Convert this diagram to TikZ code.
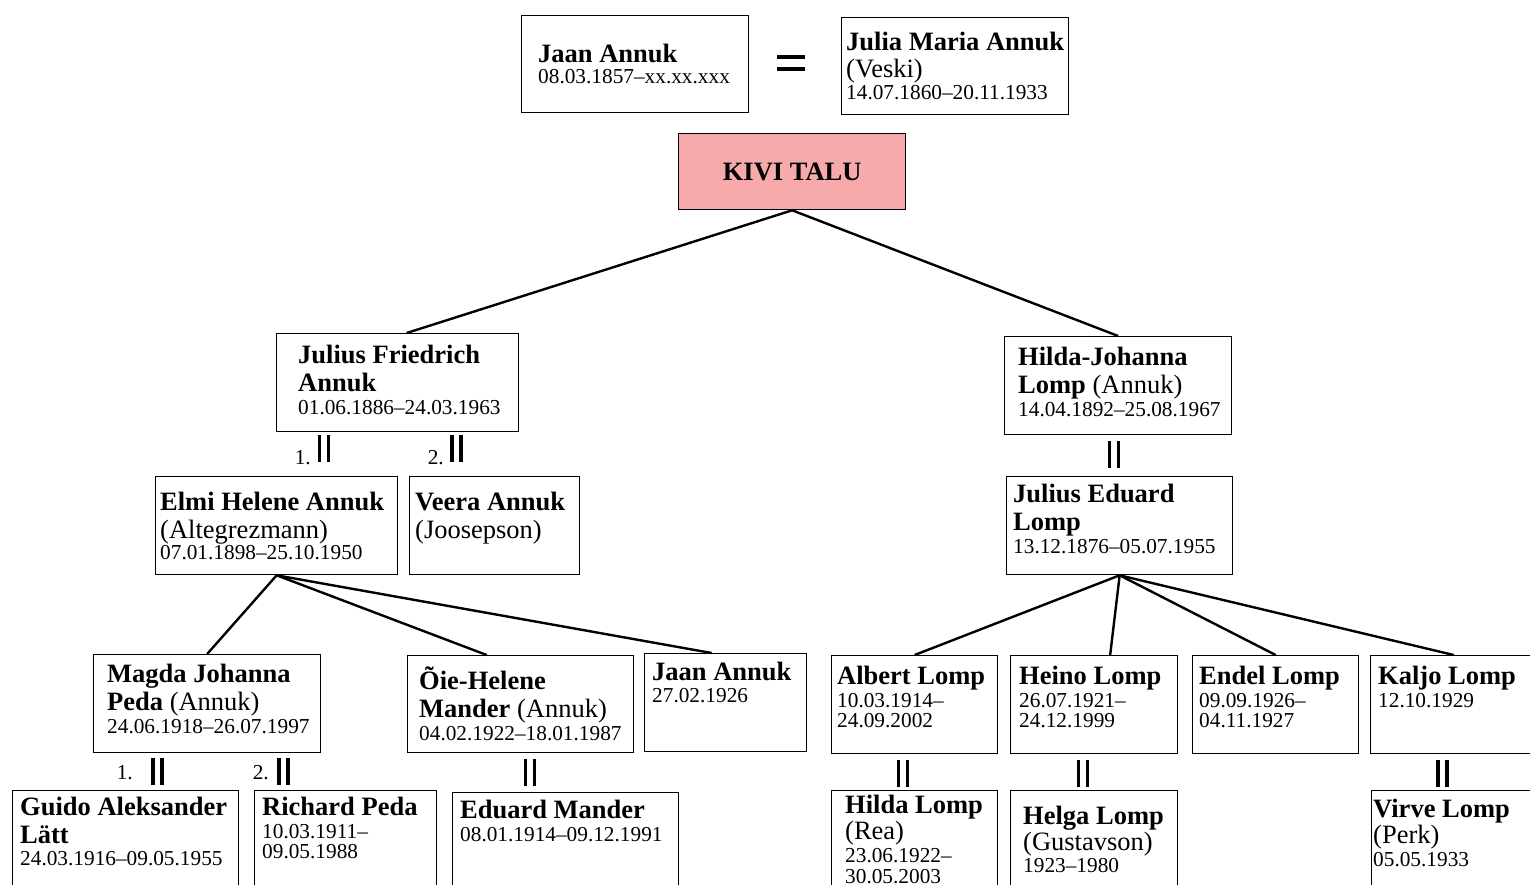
\documentclass[tikz,border=0pt]{standalone}
\usepackage{fontspec}
\setmainfont{Liberation Serif}
\usepackage{tikz}
\usetikzlibrary{positioning}
\definecolor{kivi}{RGB}{246,170,172}
\newcommand{\dt}{\fontsize{21.3pt}{21pt}\selectfont}
\newcommand{\dbar}{\rule{3.5pt}{27pt}\hspace{5.5pt}\rule{3.5pt}{27pt}}
\tikzset{
  box/.style={draw, line width=1.3pt, anchor=north west, inner sep=0pt},
  who/.style={anchor=base west, inner sep=0pt, align=left, font=\fontsize{26.5pt}{28pt}\selectfont},
  kin/.style={line width=2.4pt},
  marr/.style={inner sep=0pt},
  num/.style={inner sep=0pt, anchor=base east, font=\dt}
}
\begin{document}
\begin{tikzpicture}[x=1pt,y=1pt]
        \useasboundingbox (0,0) rectangle (1530,-884);
        \clip (0,0) rectangle (1530,-884);
        \node [box, minimum width=227pt, minimum height=97pt] (jaan) at (521,-15) {};
        \node [who] (jaanT) at (538,-83) {\textbf{Jaan Annuk}\\[-7pt]{\dt 08.03.1857--xx.xx.xxx}};
        \node [marr] (eq) at (791,-63) {\vbox{\hrule width 28pt height 4.5pt\vskip 7.5pt\hrule width 28pt height 4.5pt}};
        \node [box, minimum width=227pt, minimum height=97pt] (julia) at (841,-17) {};
        \node [who] (juliaT) at (846,-99) {\textbf{Julia Maria Annuk}\\[-1pt](Veski)\\[-6pt]{\dt 14.07.1860--20.11.1933}};
        \node [box, fill=kivi, minimum width=227pt, minimum height=76pt, font=\fontsize{26.5pt}{28pt}\selectfont] (kivi) at (678,-133) {\textbf{KIVI TALU}};
        \node [box, minimum width=242pt, minimum height=98pt] (juliusf) at (276,-333) {};
        \node [who] (juliusfT) at (298,-414) {\textbf{Julius Friedrich}\\\textbf{Annuk}\\[-5pt]{\dt 01.06.1886--24.03.1963}};
        \node [box, minimum width=227pt, minimum height=98pt] (hildaj) at (1004,-336) {};
        \node [who] (hildajT) at (1018,-416) {\textbf{Hilda-Johanna}\\\textbf{Lomp} (Annuk)\\[-5pt]{\dt 14.04.1892--25.08.1967}};
        \node [box, minimum width=242pt, minimum height=98pt] (elmi) at (155,-476) {};
        \node [who] (elmiT) at (160,-559) {\textbf{Elmi Helene Annuk}\\(Altegrezmann)\\[-7pt]{\dt 07.01.1898--25.10.1950}};
        \node [box, minimum width=170pt, minimum height=98pt] (veera) at (409,-476) {};
        \node [who] (veeraT) at (415,-538) {\textbf{Veera Annuk}\\(Joosepson)};
        \node [box, minimum width=226pt, minimum height=98pt] (juliuse) at (1006,-476) {};
        \node [who] (juliuseT) at (1013,-553) {\textbf{Julius Eduard}\\\textbf{Lomp}\\[-5pt]{\dt 13.12.1876--05.07.1955}};
        \node [box, minimum width=227pt, minimum height=98pt] (magda) at (93,-654) {};
        \node [who] (magdaT) at (107,-733) {\textbf{Magda Johanna}\\\textbf{Peda} (Annuk)\\[-5pt]{\dt 24.06.1918--26.07.1997}};
        \node [box, minimum width=226pt, minimum height=97pt] (oie) at (407,-655) {};
        \node [who] (oieT) at (419,-740) {\textbf{Õie-Helene}\\\textbf{Mander} (Annuk)\\[-5pt]{\dt 04.02.1922--18.01.1987}};
        \node [box, minimum width=162pt, minimum height=98pt] (jaanb) at (644,-653) {};
        \node [who] (jaanbT) at (652,-702) {\textbf{Jaan Annuk}\\[-6pt]{\dt 27.02.1926}};
        \node [box, minimum width=166pt, minimum height=98pt] (albert) at (831,-655) {};
        \node [who] (albertT) at (837,-727) {\textbf{Albert Lomp}\\[-5pt]{\dt 10.03.1914--}\\[-8pt]{\dt 24.09.2002}};
        \node [box, minimum width=167pt, minimum height=98pt] (heino) at (1010,-655) {};
        \node [who] (heinoT) at (1019,-727) {\textbf{Heino Lomp}\\[-5pt]{\dt 26.07.1921--}\\[-8pt]{\dt 24.12.1999}};
        \node [box, minimum width=166pt, minimum height=98pt] (endel) at (1192,-655) {};
        \node [who] (endelT) at (1199,-727) {\textbf{Endel Lomp}\\[-5pt]{\dt 09.09.1926--}\\[-8pt]{\dt 04.11.1927}};
        \node [box, minimum width=166pt, minimum height=98pt] (kaljo) at (1370,-655) {};
        \node [who] (kaljoT) at (1378,-707) {\textbf{Kaljo Lomp}\\[-5pt]{\dt 12.10.1929}};
        \node [box, minimum width=226pt, minimum height=120pt] (guido) at (12,-790) {};
        \node [who] (guidoT) at (20,-865) {\textbf{Guido Aleksander}\\\textbf{Lätt}\\[-6pt]{\dt 24.03.1916--09.05.1955}};
        \node [box, minimum width=182pt, minimum height=120pt] (richard) at (254,-790) {};
        \node [who] (richardT) at (262,-858) {\textbf{Richard Peda}\\[-5pt]{\dt 10.03.1911--}\\[-8pt]{\dt 09.05.1988}};
        \node [box, minimum width=226pt, minimum height=120pt] (eduard) at (452,-792) {};
        \node [who] (eduardT) at (460,-841) {\textbf{Eduard Mander}\\[-5pt]{\dt 08.01.1914--09.12.1991}};
        \node [box, minimum width=166pt, minimum height=120pt] (hildal) at (831,-790) {};
        \node [who] (hildalT) at (845,-883) {\textbf{Hilda Lomp}\\[-2pt](Rea)\\[-5pt]{\dt 23.06.1922--}\\[-7pt]{\dt 30.05.2003}};
        \node [box, minimum width=167pt, minimum height=120pt] (helga) at (1010,-790) {};
        \node [who] (helgaT) at (1023,-872) {\textbf{Helga Lomp}\\[-2pt](Gustavson)\\[-6pt]{\dt 1923--1980}};
        \node [box, minimum width=166pt, minimum height=120pt] (virve) at (1371,-790) {};
        \node [who] (virveT) at (1373,-866) {\textbf{Virve Lomp}\\[-2pt](Perk)\\[-5pt]{\dt 05.05.1933}};
        \node [marr] (m1) at (324,-448.5) {\dbar};
        \node [num] (n1) at (311,-464) {1.};
        \node [marr] (m2) at (456.5,-448.5) {\dbar};
        \node [num] (n2) at (444,-464) {2.};
        \node [marr] (m3) at (1114,-454) {\dbar};
        \node [marr] (m4) at (157.5,-771) {\dbar};
        \node [num] (n3) at (133,-779) {1.};
        \node [marr] (m5) at (283.5,-771) {\dbar};
        \node [num] (n4) at (269,-779) {2.};
        \node [marr] (m6) at (530,-772) {\dbar};
        \node [marr] (m7) at (903,-773.5) {\dbar};
        \node [marr] (m8) at (1083,-773.5) {\dbar};
        \node [marr] (m9) at (1442.5,-773.5) {\dbar};
        \draw [kin] (kivi.south) -- ([xshift=9pt]juliusf.north);
        \draw [kin] (kivi.south) -- (hildaj.north);
        \draw [kin] (elmi.south) -- (magda.north);
        \draw [kin] (elmi.south) -- ([xshift=-34pt]oie.north);
        \draw [kin] (elmi.south) -- ([xshift=-14pt]jaanb.north);
        \draw [kin] (juliuse.south) -- (albert.north);
        \draw [kin] (juliuse.south) -- ([xshift=16pt]heino.north);
        \draw [kin] (juliuse.south) -- (endel.north);
        \draw [kin] (juliuse.south) -- (kaljo.north);
\end{tikzpicture}
\end{document}
